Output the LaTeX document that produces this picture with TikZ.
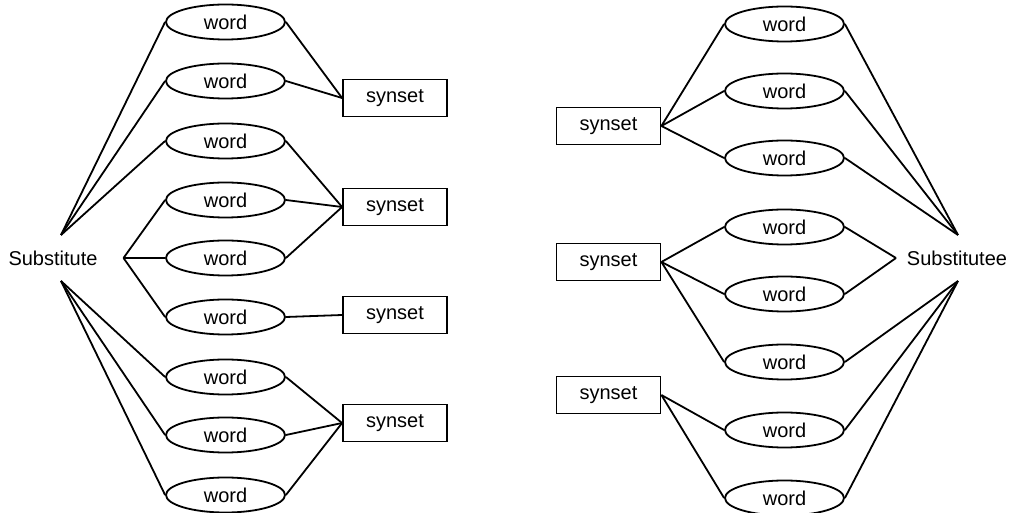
\documentclass[tikz,border=0pt]{standalone}
\usepackage{fontspec}
\setmainfont{Liberation Sans}
\usepackage{tikz}
\usetikzlibrary{shapes.geometric}
\tikzstyle{sense}=[line width=0.9pt,draw=black]
\tikzstyle{word}=[ellipse,inner sep=0pt, draw, fill=white, minimum width=59.5pt, minimum height=17.5pt]
\tikzstyle{synset}=[rectangle,inner sep=0pt, draw, fill=white, minimum width=52pt, minimum height=18.5pt]
\tikzstyle{term}=[inner sep=0pt]
\tikzstyle{link}=[-, line width=0.9pt]

\begin{document}
\begin{tikzpicture}[sense,x=0.5pt,y=-0.5pt,font=\fontsize{10pt}{12pt}\selectfont]
				\useasboundingbox (0,0) rectangle (1009,513);
				
				%The substitute
				\draw (53,258) node[term] (sub) {Substitute};
				\coordinate (subu) at (61,235);
				\coordinate (subm) at (123.5,258);
				\coordinate (subl) at (61,281);
				
				%Its words
				\draw (225.5,22) node[word] (a1) {word};
				\draw (225.5,81) node[word] (a2) {word};
				\draw (225.5,141) node[word] (a3) {word};
				\draw (225.5,200) node[word] (a4) {word};
				\draw (225.5,258) node[word] (a5) {word};
				\draw (225.5,317) node[word] (a6) {word};
				\draw (225.5,377) node[word] (a7) {word};
				\draw (225.5,435) node[word] (a8) {word};
				\draw (225.5,495) node[word] (a9) {word};
				
				%Its synsets
				\draw (395,98) node[synset] (as1) {synset};
				\draw (395,207) node[synset] (as2) {synset};
				\draw (395,315) node[synset] (as3) {synset};
				\draw (395,423) node[synset] (as4) {synset};
				
				%The substitutee
				\draw (957,258) node[term] (tgt) {Substitutee};
				\coordinate (tgtu) at (958,235);
				\coordinate (tgtm) at (896,258);
				\coordinate (tgtl) at (958,281);
				
				%Its synsets
				\draw (608.5,126) node[synset] (bs1) {synset};
				\draw (608.5,262) node[synset] (bs2) {synset};
				\draw (608.5,395) node[synset] (bs3) {synset};
				
				%Its words
				\draw (784.5,24) node[word] (b1) {word};
				\draw (784.5,91) node[word] (b2) {word};
				\draw (784.5,158) node[word] (b3) {word};
				\draw (784.5,227) node[word] (b4) {word};
				\draw (784.5,294) node[word] (b5) {word};
				\draw (784.5,362) node[word] (b6) {word};
				\draw (784.5,430) node[word] (b7) {word};
				\draw (784.5,498) node[word] (b8) {word};
				
				\draw[link] (subu) -- (a1.west);
				\draw[link] (subu) -- (a2.west);
				\draw[link] (subu) -- (a3.west);
				\draw[link] (subm) -- (a4.west);
				\draw[link] (subm) -- (a5.west);
				\draw[link] (subm) -- (a6.west);
				\draw[link] (subl) -- (a7.west);
				\draw[link] (subl) -- (a8.west);
				\draw[link] (subl) -- (a9.west);
				
				\draw[link] (a1.east) -- (as1.west);
				\draw[link] (a2.east) -- (as1.west);
				\draw[link] (a3.east) -- (as2.west);
				\draw[link] (a4.east) -- (as2.west);
				\draw[link] (a5.east) -- (as2.west);
				\draw[link] (a6.east) -- (as3.west);
				\draw[link] (a7.east) -- (as4.west);
				\draw[link] (a8.east) -- (as4.west);
				\draw[link] (a9.east) -- (as4.west);
				
				\draw[link] (bs1.east) -- (b1.west);
				\draw[link] (bs1.east) -- (b2.west);
				\draw[link] (bs1.east) -- (b3.west);
				\draw[link] (bs2.east) -- (b4.west);
				\draw[link] (bs2.east) -- (b5.west);
				\draw[link] (bs2.east) -- (b6.west);
				\draw[link] (bs3.east) -- (b7.west);
				\draw[link] (bs3.east) -- (b8.west);
				
				\draw[link] (b1.east) -- (tgtu);
				\draw[link] (b2.east) -- (tgtu);
				\draw[link] (b3.east) -- (tgtu);
				\draw[link] (b4.east) -- (tgtm);
				\draw[link] (b5.east) -- (tgtm);
				\draw[link] (b6.east) -- (tgtl);
				\draw[link] (b7.east) -- (tgtl);
				\draw[link] (b8.east) -- (tgtl);
			\end{tikzpicture}
\end{document}
